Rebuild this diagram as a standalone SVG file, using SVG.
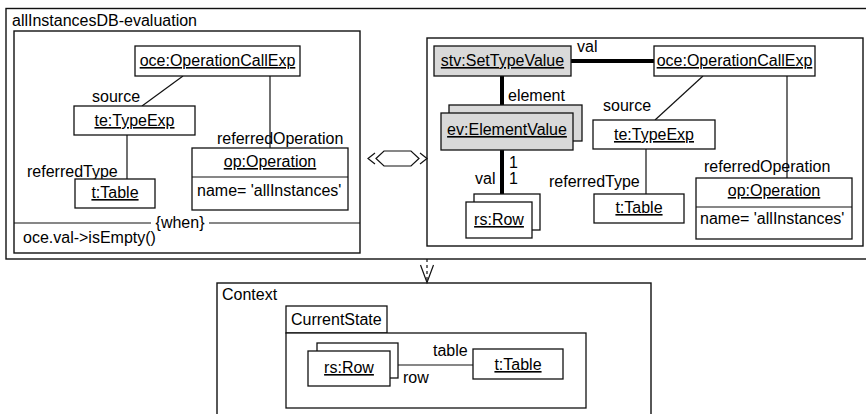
<svg xmlns="http://www.w3.org/2000/svg" width="866" height="414" viewBox="0 0 866 414">
<style>
text{font-family:"Liberation Sans",Arial,sans-serif;font-size:16px;fill:#000}
.u{text-decoration:underline}
.m{text-anchor:middle}
.f{fill:none;stroke:#111;stroke-width:1.4}
.b{fill:#fff;stroke:#111;stroke-width:1.3}
.g{fill:#d9d9d9;stroke:#111;stroke-width:1.3}
.l{fill:none;stroke:#111;stroke-width:1.2}
.t{fill:none;stroke:#000;stroke-width:4}
</style>
<rect width="866" height="414" fill="#fff"/>
<g id="frame-outer">
<rect class="f" x="6" y="8.5" width="880" height="250.5"/>
<text x="12" y="26">allInstancesDB-evaluation</text>
</g>
<g id="frame-left">
<rect class="f" x="14" y="31" width="346" height="222"/>
<line class="l" x1="14" y1="223" x2="151" y2="223"/>
<line class="l" x1="209" y1="223" x2="360" y2="223"/>
<text class="m" x="180" y="228">{when}</text>
<text x="23" y="243">oce.val-&gt;isEmpty()</text>
</g>
<g id="frame-right">
<rect class="f" x="427" y="38" width="436" height="208"/>
</g>
<g id="frame-context">
<rect class="f" x="217" y="283" width="434" height="140"/>
<text x="222" y="300">Context</text>
</g>
<g id="c-state">
<rect class="b" x="286" y="306" width="101" height="27"/>
<text x="291" y="325">CurrentState</text>
<rect class="b" x="286" y="333" width="300" height="75"/>
</g>
<g id="connectors">
<line class="l" x1="183" y1="76" x2="142" y2="106"/>
<line class="l" x1="270" y1="76" x2="270" y2="148"/>
<line class="l" x1="127" y1="135" x2="127" y2="179"/>
<line class="t" x1="571" y1="61" x2="654" y2="61"/>
<line class="t" x1="502" y1="76" x2="502" y2="105"/>
<line class="t" x1="502" y1="150" x2="502" y2="194"/>
<line class="l" x1="703" y1="76" x2="655" y2="120"/>
<line class="l" x1="646" y1="149" x2="646" y2="194"/>
<line class="l" x1="787" y1="76" x2="787" y2="178"/>
<line class="l" x1="398" y1="365" x2="473" y2="365"/>
<polygon class="l" points="376,158.5 384,151 411,151 419,158.5 411,166 384,166"/>
<polyline class="l" points="375,153 368,158.5 375,164"/>
<polyline class="l" points="420,153 427,158.5 420,164"/>
<line class="l" x1="427" y1="259" x2="427" y2="282" stroke-dasharray="3,3"/>
<polyline class="l" points="420.5,265 427,282.5 433.5,265"/>
</g>
<g id="labels">
<text x="92" y="102">source</text>
<text x="217" y="144">referredOperation</text>
<text x="27" y="177">referredType</text>
<text x="577" y="52">val</text>
<text x="508" y="101">element</text>
<text x="509" y="168">1</text>
<text x="509" y="184">1</text>
<text x="475" y="184">val</text>
<text x="603" y="111">source</text>
<text x="549" y="187">referredType</text>
<text x="704" y="172">referredOperation</text>
<text x="433" y="356">table</text>
<text x="403" y="383">row</text>
</g>
<g id="l-oce">
<rect class="b" x="135" y="46" width="165" height="30"/>
<text class="m u" x="217.5" y="66">oce:OperationCallExp</text>
</g>
<g id="l-te">
<rect class="b" x="74" y="106" width="121" height="29"/>
<text class="m u" x="134.5" y="126">te:TypeExp</text>
</g>
<g id="l-t">
<rect class="b" x="75" y="179" width="80" height="29"/>
<text class="m u" x="115" y="198">t:Table</text>
</g>
<g id="l-op">
<rect class="b" x="192" y="148" width="156" height="62"/>
<line class="l" x1="192" y1="177" x2="348" y2="177"/>
<text class="m u" x="270" y="167">op:Operation</text>
<text x="197" y="196">name= 'allInstances'</text>
</g>
<g id="r-stv">
<rect class="g" x="434" y="46" width="137" height="30"/>
<text class="m u" x="502.5" y="66">stv:SetTypeValue</text>
</g>
<g id="r-oce">
<rect class="b" x="654" y="46" width="161" height="30"/>
<text class="m u" x="734.5" y="66">oce:OperationCallExp</text>
</g>
<g id="r-ev">
<rect class="g" x="449" y="105" width="133" height="36"/>
<rect class="g" x="441" y="113" width="132" height="37"/>
<text class="m u" x="507" y="135">ev:ElementValue</text>
</g>
<g id="r-rs">
<rect class="b" x="474" y="194" width="66" height="36"/>
<rect class="b" x="466" y="202" width="66" height="36"/>
<text class="m u" x="499" y="225">rs:Row</text>
</g>
<g id="r-te">
<rect class="b" x="593" y="120" width="122" height="29"/>
<text class="m u" x="654" y="140">te:TypeExp</text>
</g>
<g id="r-t">
<rect class="b" x="594" y="194" width="90" height="29"/>
<text class="m u" x="639" y="213">t:Table</text>
</g>
<g id="r-op">
<rect class="b" x="696" y="178" width="156" height="61"/>
<line class="l" x1="696" y1="207" x2="852" y2="207"/>
<text class="m u" x="774" y="196">op:Operation</text>
<text x="700" y="224">name= 'allInstances'</text>
</g>
<g id="c-rs">
<rect class="b" x="317" y="343" width="81" height="35"/>
<rect class="b" x="308" y="351" width="82" height="35"/>
<text class="m u" x="349" y="373">rs:Row</text>
</g>
<g id="c-t">
<rect class="b" x="473" y="349" width="90" height="30"/>
<text class="m u" x="518" y="370">t:Table</text>
</g>
</svg>
